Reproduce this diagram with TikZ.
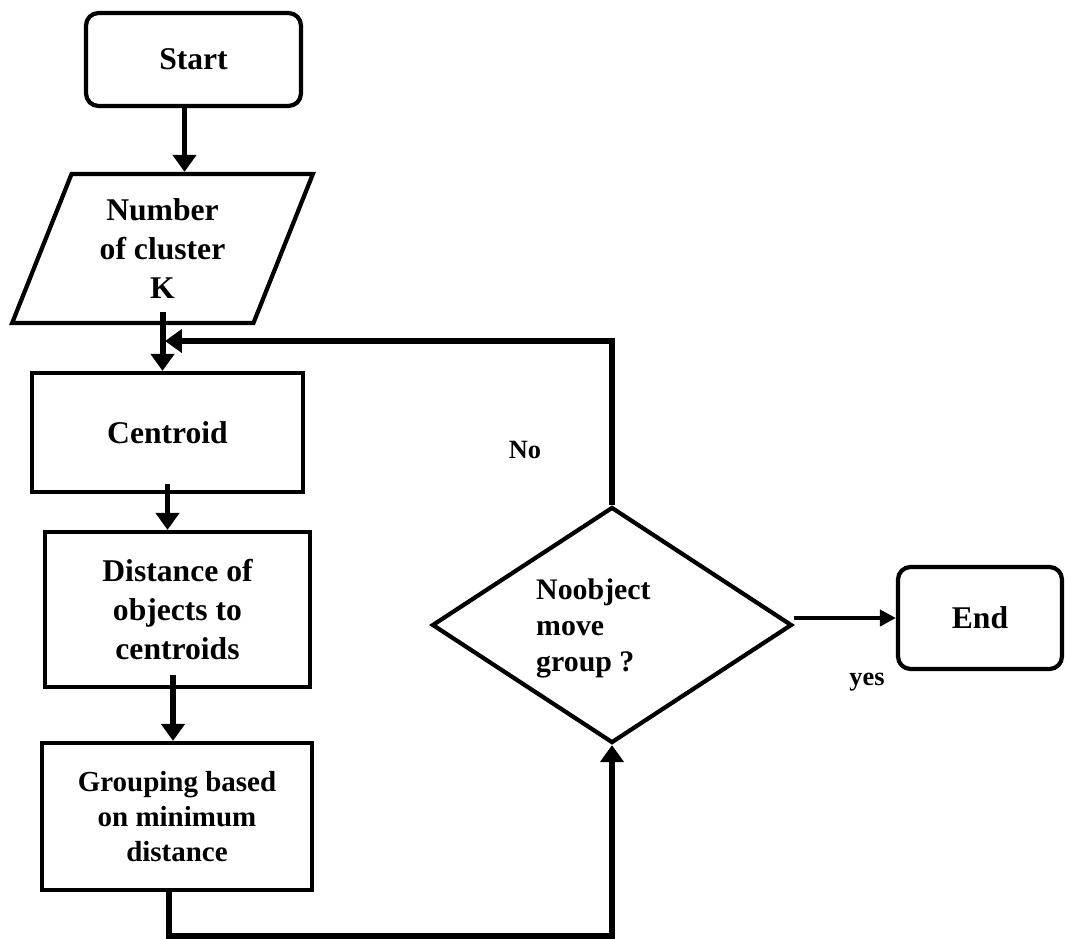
\documentclass[tikz,border=0pt]{standalone}
\usepackage{fontspec}
\setmainfont{Liberation Serif}
\usetikzlibrary{shapes.geometric,arrows.meta}
\tikzstyle{terminal} = [draw, rectangle, rounded corners=0.25cm, line width=2.4pt,
    font=\fontsize{18}{22}\selectfont\bfseries]
\tikzstyle{block} = [draw, rectangle, line width=2.4pt, align=center,
    font=\fontsize{18}{22}\selectfont\bfseries]
\tikzstyle{io} = [draw, trapezium, trapezium left angle=68, trapezium right angle=112,
    trapezium stretches=true, line width=2.4pt, align=center,
    font=\fontsize{18}{22}\selectfont\bfseries]
\tikzstyle{decision} = [draw, diamond, line width=2.4pt]
\tikzstyle{branch} = [font=\fontsize{15}{18}\selectfont\bfseries]
\tikzstyle{line} = [line width=3.4pt, -{Triangle[width=0.46cm,length=0.34cm]}]

\begin{document}
\begin{tikzpicture}[x=0.02cm, y=-0.02cm]
    \useasboundingbox (0,0) rectangle (1065,938);
    \node [terminal, minimum width=4.3cm, minimum height=1.86cm] (start) at (193.5,59.5) {Start};
    \node [io, minimum width=6.02cm, minimum height=2.98cm] (input) at (162.5,248.5) {Number\\of cluster\\K};
    \node [block, minimum width=5.42cm, minimum height=2.38cm] (centroid) at (167.5,432.5) {Centroid};
    \node [block, minimum width=5.3cm, minimum height=3.1cm] (distance) at (177.5,609.5) {Distance of\\objects to\\centroids};
    \node [block, minimum width=5.4cm, minimum height=2.94cm,
        font=\fontsize{16.5}{20}\selectfont\bfseries] (grouping) at (177,816.5) {Grouping based\\on minimum\\distance};
    \node [decision, minimum width=7.2cm, minimum height=4.72cm] (check) at (612,625) {};
    \node [anchor=west, align=left, font=\fontsize{17}{20.5}\selectfont\bfseries] (checktext) at (530,628) {Noobject\\move\\group ?};
    \node [terminal, minimum width=3.28cm, minimum height=2.04cm] (end) at (980,618) {End};
    \node [branch] (no) at (525,450) {No};
    \node [branch] (yes) at (867,682) {yes};
    \coordinate (join) at (165,341);
    \coordinate (turn) at (612,936);

    \draw [line] ([xshift=-0.18cm]start.south) -- ([xshift=-0.18cm]start.south |- input.north);
    \draw [line] ([yshift=0.26cm]input.south) -- (input.south |- centroid.north);
    \draw [line] (check.north) |- (join);
    \draw [line] ([yshift=0.2cm]centroid.south) -- (centroid.south |- distance.north);
    \draw [line] ([xshift=-0.09cm,yshift=0.28cm]distance.south) -- ([xshift=-0.09cm]distance.south |- grouping.north);
    \draw [line] ([xshift=-0.16cm]grouping.south) |- (turn) -- (check.south);
    \draw [line width=2.6pt, -{Triangle[width=0.32cm,length=0.32cm]}] (check.east |- end.west) -- (end.west);
\end{tikzpicture}
\end{document}
